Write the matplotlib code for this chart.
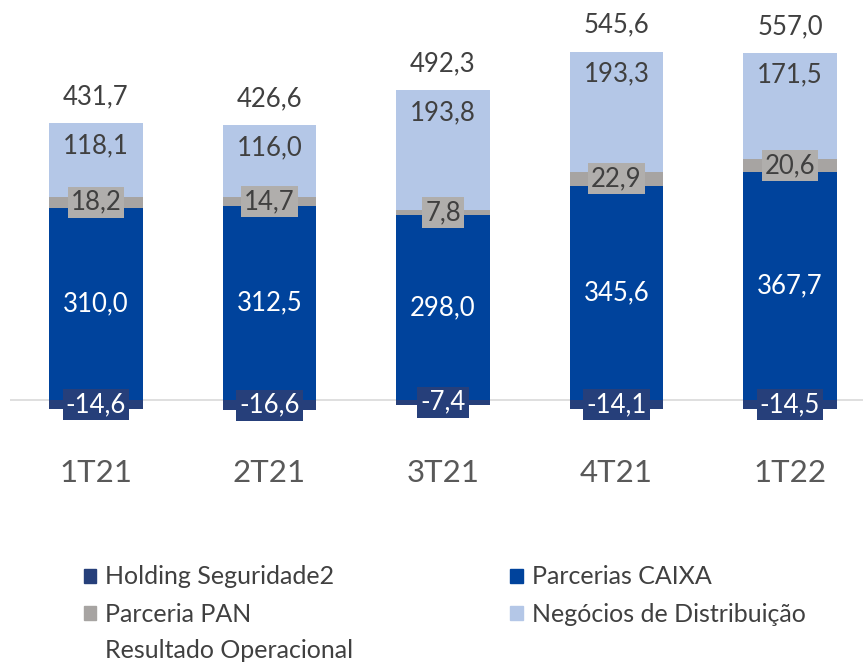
import matplotlib.pyplot as plt
import matplotlib.patches as mpatches
import numpy as np

plt.rcParams['font.family'] = ['Lato', 'DejaVu Sans']

trimestres = ['1T21', '2T21', '3T21', '4T21', '1T22']
holding = [-14.6, -16.6, -7.4, -14.1, -14.5]
parcerias_caixa = [310.0, 312.5, 298.0, 345.6, 367.7]
parceria_pan = [18.2, 14.7, 7.8, 22.9, 20.6]
negocios_distrib = [118.1, 116.0, 193.8, 193.3, 171.5]
resultado_op = [431.7, 426.6, 492.3, 545.6, 557.0]

cor_holding = '#263F7A'
cor_caixa = '#00439C'
cor_pan = '#A7A4A2'
cor_distrib = '#B4C7E7'
cor_texto = '#404040'

fig = plt.figure(figsize=(8.63, 6.64), dpi=100)
ax = fig.add_axes([10 / 863, 1 - 420 / 664, 853 / 863, 400 / 664])

x = np.arange(len(trimestres))
larg = 0.54

caixa = np.array(parcerias_caixa)
pan = np.array(parceria_pan)
dist = np.array(negocios_distrib)

ax.axhline(0, color='#D9D9D9', linewidth=1.2, zorder=1)
ax.bar(x, holding, larg, color=cor_holding, zorder=2)
ax.bar(x, caixa, larg, color=cor_caixa, zorder=2)
ax.bar(x, pan, larg, bottom=caixa, color=cor_pan, zorder=2)
ax.bar(x, dist, larg, bottom=caixa + pan, color=cor_distrib, zorder=2)

fmt = lambda v: f'{v:.1f}'.replace('.', ',')
fs = 18.5

for i in range(len(x)):
    # Parcerias CAIXA no meio do segmento
    ax.text(x[i], caixa[i] / 2, fmt(caixa[i]), ha='center', va='center',
            color='white', fontsize=fs, zorder=5)
    # Parceria PAN com caixa de fundo
    ax.text(x[i], caixa[i] + pan[i] / 2, fmt(pan[i]), ha='center', va='center',
            color=cor_texto, fontsize=fs, zorder=5,
            bbox=dict(boxstyle='square,pad=0.12', fc='#B0AEAC', ec='none'))
    # Negocios de Distribuicao no topo interno
    topo = caixa[i] + pan[i] + dist[i]
    ax.annotate(fmt(dist[i]), (x[i], topo), xytext=(0, -16), textcoords='offset points',
                ha='center', va='center', color=cor_texto, fontsize=fs, zorder=5)
    # Holding abaixo do eixo
    ax.text(x[i], holding[i] / 2, fmt(holding[i]), ha='center', va='center',
            color='white', fontsize=fs, zorder=5,
            bbox=dict(boxstyle='square,pad=0.12', fc=cor_holding, ec='none'))
    # Resultado operacional acima da barra
    ax.annotate(fmt(resultado_op[i]), (x[i], topo), xytext=(0, 19), textcoords='offset points',
                ha='center', va='center', color=cor_texto, fontsize=fs, zorder=5)

ax.set_xlim((10 - 96) / 173.5, (863 - 96) / 173.5)
ax.set_ylim(-20 / 0.62, 380 / 0.62)
ax.set_xticks(x)
ax.set_xticklabels(trimestres, fontsize=22.5, color='#595959')
ax.tick_params(axis='x', length=0, pad=28)
ax.set_yticks([])
for s in ax.spines.values():
    s.set_visible(False)

handles = [
    mpatches.Patch(color=cor_holding, label='Holding Seguridade2'),
    mpatches.Patch(color=cor_pan, label='Parceria PAN'),
    mpatches.Patch(fc='none', ec='none', label='Resultado Operacional'),
    mpatches.Patch(color=cor_caixa, label='Parcerias CAIXA'),
    mpatches.Patch(color=cor_distrib, label='Negócios de Distribuição'),
]
fig.legend(handles=handles, ncol=2, loc='upper left',
           bbox_to_anchor=(71 / 863, 1 - 553 / 664), frameon=False, borderpad=0,
           fontsize=18, labelcolor=cor_texto, handlelength=0.5, handleheight=0.5,
           handletextpad=0.35, labelspacing=0.56, columnspacing=6.3)

fig.savefig('out.png', dpi=100)
